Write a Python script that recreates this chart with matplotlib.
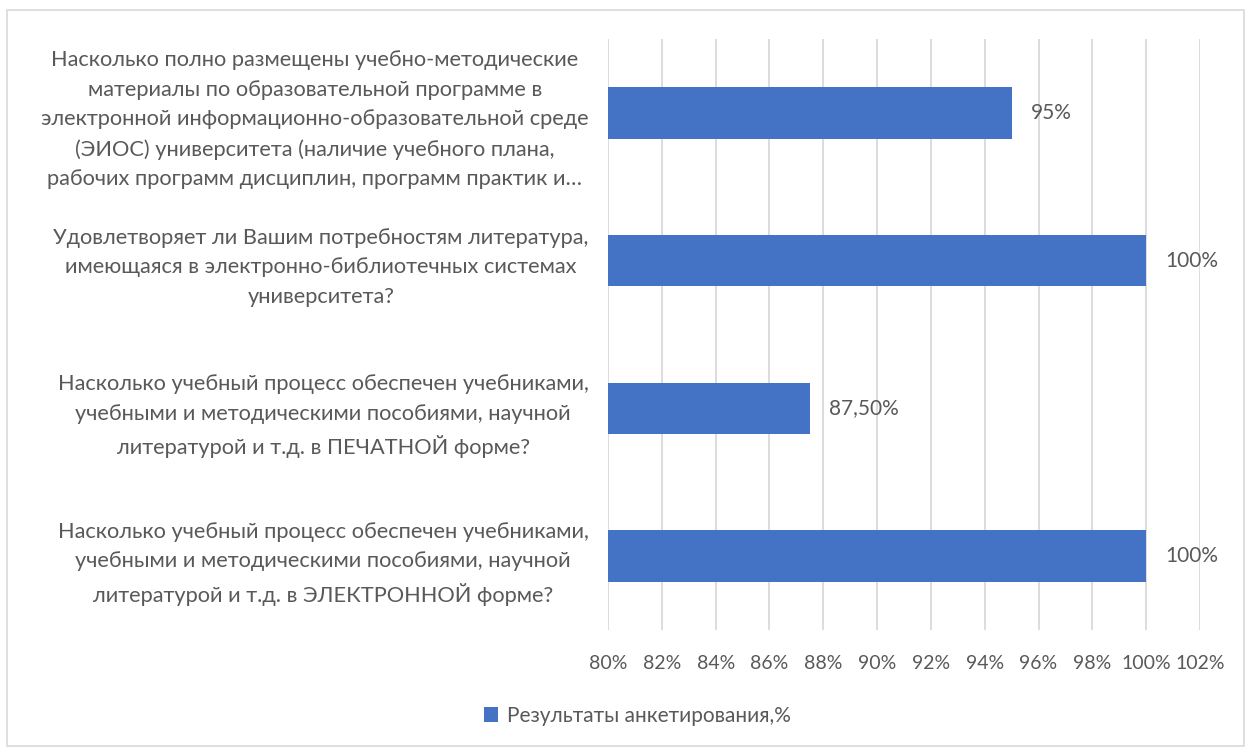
import numpy as np
import matplotlib.pyplot as plt
from matplotlib.patches import Rectangle

plt.rcParams['font.family'] = ['Lato', 'DejaVu Sans']

questions = [
    'Насколько учебный процесс обеспечен учебниками,\nучебными и методическими пособиями, научной\nлитературой и т.д. в ЭЛЕКТРОННОЙ форме?',
    'Насколько учебный процесс обеспечен учебниками,\nучебными и методическими пособиями, научной\nлитературой и т.д. в ПЕЧАТНОЙ форме?',
    'Удовлетворяет ли Вашим потребностям литература,\nимеющаяся в электронно-библиотечных системах\nуниверситета?',
    'Насколько полно размещены учебно-методические\nматериалы по образовательной программе в\nэлектронной информационно-образовательной среде\n(ЭИОС) университета (наличие учебного плана,\nрабочих программ дисциплин, программ практик и…',
]
values = [100, 87.5, 100, 95]
value_labels = ['100%', '87,50%', '100%', '95%']
xticks = np.arange(80, 103, 2)
series_name = 'Результаты анкетирования,%'

text_color = '#595959'
bar_color = '#4472C4'

W, H = 1246, 747
fig = plt.figure(figsize=(W / 100, H / 100), dpi=100)
ax = fig.add_axes([608 / W, 1 - 630 / H, (1200 - 608) / W, (630 - 39) / H])

y = np.arange(len(questions))
bars = ax.barh(y, values, height=0.35, color=bar_color, label=series_name, zorder=3)

ax.set_xlim(80, 102)
ax.set_ylim(-0.5, len(questions) - 0.5)
ax.set_xticks(xticks)
ax.set_xticklabels([f'{t}%' for t in xticks], color=text_color, fontsize=14)
ax.set_yticks(y)
ax.set_yticklabels(questions, color=text_color, fontsize=15.7, ma='center', linespacing=1.6)
ax.tick_params(axis='both', length=0, pad=18)
ax.tick_params(axis='y', pad=14)
ax.grid(axis='x', color='#d9d9d9', linewidth=1.3, zorder=0)
for s in ax.spines.values():
    s.set_visible(False)

for b, lab in zip(bars, value_labels):
    ax.text(b.get_width() + 0.7, b.get_y() + b.get_height() / 2, lab,
            va='center', ha='left', fontsize=15, color=text_color)

leg = fig.legend(handles=[bars], labels=[series_name], loc='center',
                 bbox_to_anchor=(637 / W, 1 - 716 / H), frameon=False,
                 fontsize=15, handlelength=0.7, handleheight=0.7, handletextpad=0.4)
for t in leg.get_texts():
    t.set_color(text_color)

fig.patches.append(Rectangle((7 / W, 0.002), (W - 9) / W, 1 - 10 / H - 0.002,
                             transform=fig.transFigure, fill=False,
                             edgecolor='#d9d9d9', linewidth=1.2))

fig.savefig('out.png', dpi=100)
